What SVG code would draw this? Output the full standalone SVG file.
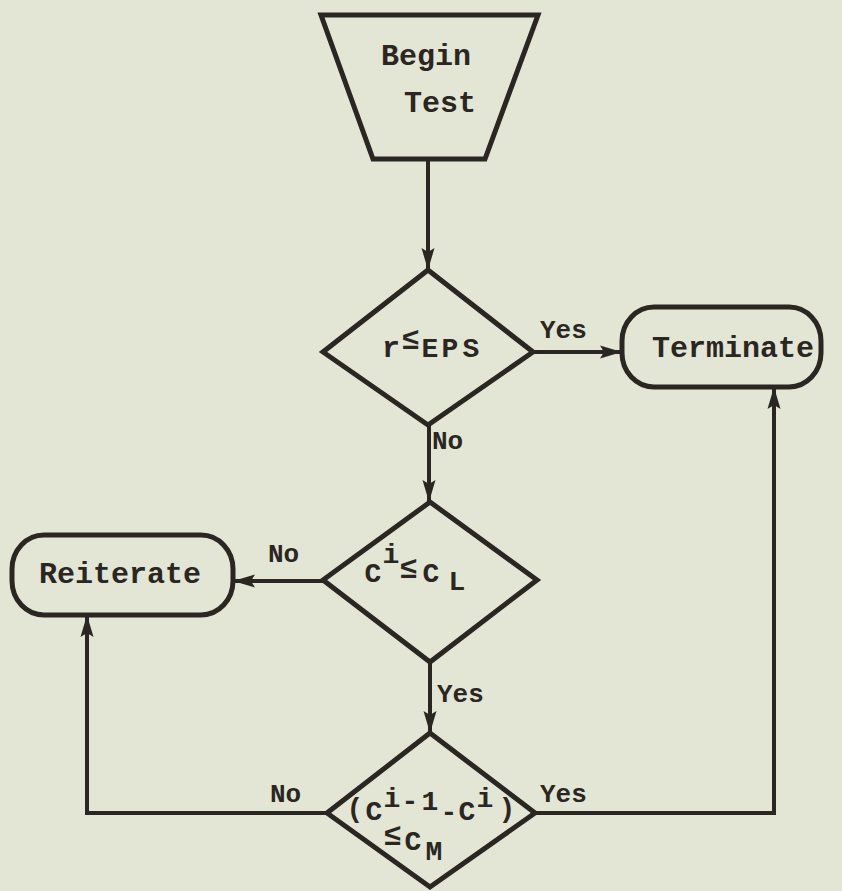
<svg xmlns="http://www.w3.org/2000/svg" width="842" height="891" viewBox="0 0 842 891">
  <defs>
    <style>
      .shape { fill: none; stroke: #2a2722; stroke-width: 5; stroke-linejoin: miter; }
      .wire { fill: none; stroke: #2a2722; stroke-width: 4; }
      text { font-family: "Liberation Mono", "Courier New", monospace; font-weight: bold; fill: #2a2722; }
      .big { font-size: 30px; }
      .lbl { font-size: 26px; }
      .f { font-size: 28px; text-anchor: middle; }
      .le { font-size: 30px; text-anchor: middle; }
    </style>
    <marker id="arrow" viewBox="0 0 22 14" refX="22" refY="7" markerWidth="22" markerHeight="14" markerUnits="userSpaceOnUse" orient="auto">
      <path d="M0,0.5 L22,7 L0,13.5 L4,7 z" fill="#2a2722"/>
    </marker>
  </defs>

  <rect width="842" height="891" fill="#e3e5d5"/>

  <!-- connectors -->
  <g id="connectors">
    <line class="wire" x1="428" y1="160" x2="428" y2="270" marker-end="url(#arrow)"/>
    <line class="wire" x1="533" y1="352" x2="622" y2="352" marker-end="url(#arrow)"/>
    <line class="wire" x1="429" y1="425" x2="429" y2="502" marker-end="url(#arrow)"/>
    <line class="wire" x1="323" y1="581" x2="233" y2="581" marker-end="url(#arrow)"/>
    <line class="wire" x1="430" y1="662" x2="430" y2="733" marker-end="url(#arrow)"/>
    <polyline class="wire" points="327,813 87,813 87,615" marker-end="url(#arrow)"/>
    <polyline class="wire" points="535,813 774,813 774,387" marker-end="url(#arrow)"/>
    <text class="lbl" x="540" y="338">Yes</text>
    <text class="lbl" x="432" y="449">No</text>
    <text class="lbl" x="268" y="562">No</text>
    <text class="lbl" x="437" y="702">Yes</text>
    <text class="lbl" x="270" y="802">No</text>
    <text class="lbl" x="540" y="802">Yes</text>
  </g>

  <!-- start -->
  <g id="begin">
    <polygon class="shape" points="321,15 538,15 485,159 373,159"/>
    <text class="big" x="381" y="65">Begin</text>
    <text class="big" x="404" y="112">Test</text>
  </g>

  <!-- residual test: r <= EPS -->
  <g id="test-eps">
    <polygon class="shape" points="428,270 533,352 428,425 323,352"/>
    <text class="big" x="382" y="357">r</text>
    <text class="le" x="411" y="349">≤</text>
    <text class="f" font-size="30" x="430" y="357">E</text>
    <text class="f" font-size="30" x="450" y="357">P</text>
    <text class="f" font-size="30" x="471" y="357">S</text>
  </g>

  <g id="terminate">
    <rect class="shape" x="622" y="307" width="199" height="80" rx="32" ry="34"/>
    <text class="big" x="652" y="357">Terminate</text>
  </g>

  <!-- lower bound test: C^i <= C_L -->
  <g id="test-cl">
    <polygon class="shape" points="430,502 537,580 430,662 323,580"/>
    <text class="f" x="373" y="582">C</text>
    <text class="f" x="391" y="563">i</text>
    <text class="le" x="409" y="578">≤</text>
    <text class="f" x="431" y="582">C</text>
    <text class="f" x="457" y="590">L</text>
  </g>

  <g id="reiterate">
    <rect class="shape" x="12" y="535" width="221" height="80" rx="32" ry="34"/>
    <text class="big" x="39" y="583">Reiterate</text>
  </g>

  <!-- change test: (C^(i-1) - C^i) <= C_M -->
  <g id="test-cm">
    <polygon class="shape" points="430,733 535,813 430,887 327,813"/>
    <text class="f" x="355" y="817">(</text>
    <text class="f" x="374" y="820">C</text>
    <text class="f" x="392" y="807">i</text>
    <text class="f" x="410" y="810">-</text>
    <text class="f" x="430" y="810">1</text>
    <text class="f" x="449" y="821">-</text>
    <text class="f" x="467" y="820">C</text>
    <text class="f" x="485" y="807">i</text>
    <text class="f" x="507" y="817">)</text>
    <text class="le" x="393" y="845">≤</text>
    <text class="f" x="413" y="850">C</text>
    <text class="f" x="434" y="860">M</text>
  </g>
</svg>
